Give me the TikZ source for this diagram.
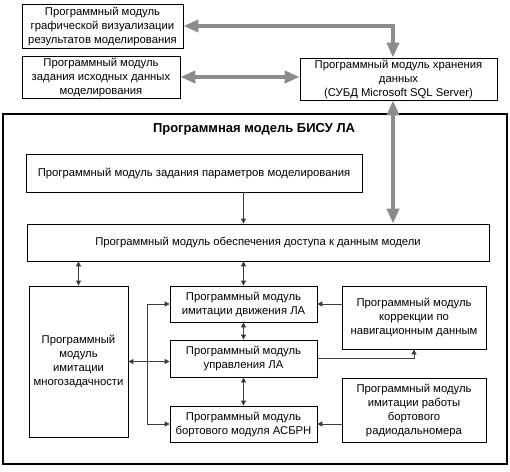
\documentclass[tikz,border=0pt]{standalone}
\usepackage{fontspec}
\setmainfont{Liberation Sans}
\usetikzlibrary{arrows.meta,positioning,calc}
\definecolor{arrowgray}{RGB}{140,140,140}
\definecolor{linegray}{RGB}{60,60,60}

\tikzset{
  module/.style={draw=black, line width=0.8pt, align=center, inner sep=0pt,
    font=\fontsize{11.3}{14}\selectfont},
  bigarrow/.style={arrowgray, line width=4pt,
    {Triangle[length=15pt,width=12pt]}-{Triangle[length=15pt,width=12pt]}},
  smallarrow/.style={linegray, line width=0.8pt, -{Triangle[length=5pt,width=5pt]}},
  twoway/.style={smallarrow, {Triangle[length=5pt,width=5pt]}-{Triangle[length=5pt,width=5pt]}}
}

\begin{document}
\begin{tikzpicture}[x=1pt,y=-1pt]
        \useasboundingbox (0,0) rectangle (510,471);

        % outer modules
        \node[module, minimum width=161pt, minimum height=44pt] (viz) at (102.5,26)
          {Программный модуль\\графической визуализации\\результатов моделирования};
        \node[module, minimum width=158pt, minimum height=42pt] (init) at (101,77)
          {Программный модуль\\задания исходных данных\\моделирования};
        \node[module, minimum width=197pt, minimum height=42pt] (store) at (398.5,79)
          {Программный модуль хранения\\данных\\(СУБД Microsoft SQL Server)};

        % model frame
        \draw[line width=1.2pt] (3,114) rectangle (507,464);
        \node[font=\fontsize{13}{15}\selectfont\bfseries] (title) at (254,129)
          {Программная модель БИСУ ЛА};

        \node[module, minimum width=336pt, minimum height=38pt] (params) at (194,173)
          {Программный модуль задания параметров моделирования};
        \node[module, minimum width=462pt, minimum height=37pt] (access) at (258,242.5)
          {Программный модуль обеспечения доступа к данным модели};

        \node[module, minimum width=99pt, minimum height=151pt] (multi) at (78.5,361.5)
          {Программный\\модуль\\имитации\\многозадачности};
        \node[module, minimum width=147pt, minimum height=36pt] (motion) at (243.5,304)
          {Программный модуль\\имитации движения ЛА};
        \node[module, minimum width=147pt, minimum height=37pt] (control) at (243.5,358.5)
          {Программный модуль\\управления ЛА};
        \node[module, minimum width=147pt, minimum height=36pt] (asbrn) at (243.5,424)
          {Программный модуль\\бортового модуля АСБРН};
        \node[module, minimum width=144pt, minimum height=63pt] (corr) at (414,317.5)
          {Программный модуль\\коррекции по\\навигационным данным};
        \node[module, minimum width=144pt, minimum height=64pt] (radio) at (414,410)
          {Программный модуль\\имитации работы\\бортового\\радиодальномера};

        % data exchange
        \coordinate (trunk) at (393,0);
        \draw[bigarrow] (viz.east) -| (trunk |- store.north);
        \draw[bigarrow] (init.east) -- (init.east -| store.west);
        \draw[bigarrow] (trunk |- store.south) -- (trunk |- access.north);

        % links inside the model
        \coordinate (bus) at (147,0);
        \draw[smallarrow] (params.south -| motion) -- (access.north -| motion);
        \draw[twoway] (access.south -| multi) -- (multi.north);
        \draw[twoway] (access.south -| motion) -- (motion.north);
        \draw[twoway] (motion.south) -- (control.north);
        \draw[twoway] (control.south) -- (asbrn.north);
        \draw[smallarrow] (corr.west |- motion) -- (motion.east);
        \draw[smallarrow] (radio.west |- asbrn) -- (asbrn.east);
        \draw[smallarrow] (control.east) -| (corr.south);
        \draw[smallarrow] (multi.east -| bus) -- (multi.east);
        \draw[smallarrow] (multi.east -| bus) -- (multi.east -| control.west);
        \draw[linegray, line width=0.8pt] (bus |- motion) -- (bus |- asbrn);
        \draw[smallarrow] (bus |- motion) -- (motion.west);
        \draw[smallarrow] (bus |- asbrn) -- (asbrn.west);

      \end{tikzpicture}
\end{document}
